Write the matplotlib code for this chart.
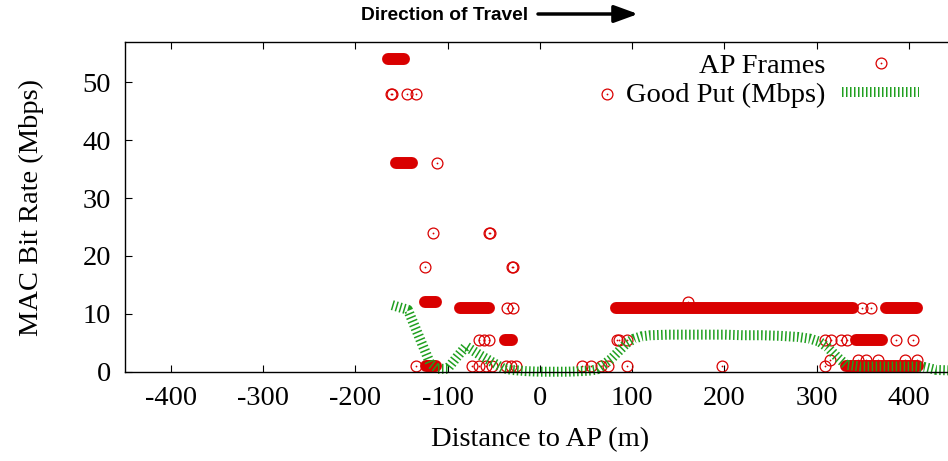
import matplotlib
matplotlib.use('Agg')
import matplotlib.pyplot as plt
from matplotlib.lines import Line2D

## Style
RED = '#d90000'
GREEN = '#1f9f1f'
plt.rcParams['font.family'] = ['Liberation Serif', 'DejaVu Serif']
plt.rcParams['axes.unicode_minus'] = False

################################################################################
## Data

## Isolated AP frames, distance to AP (m) for each MAC bit rate (Mbps)
frames_48 = [-161, -160, -144, -134, 73]
frames_36 = [-111]
frames_24 = [-116, -55, -53.5]
frames_18 = [-124, -30, -28.5]
frames_12 = [161]
frames_11 = [-35.5, -29, 349, 359.5]
frames_5_5 = [-65.5, -60, -55.5, 84, 85.5, 94.5, 309, 316, 327, 332.5, 386.5, 405]
frames_2 = [314.5, 345, 354, 367, 396, 409]
frames_1 = [-134, -73, -65.5, -58.5, -51.5, -37, -31.5, -26,
            46, 56, 66, 74, 94.5, 197, 309]

## Continuous stretches of AP frames at one rate
run_rate = [54, 36, 12, 11, 11, 11, 5.5, 5.5, 1, 1]
run_first = [-164, -156, -124.5, -87, 82.5, 375.5, -38, 343, -123.5, 332]
run_last = [-147, -139, -113, -55.5, 340, 408.5, -30.5, 370.5, -113, 410]

## Good put along the drive
goodput_dist = [-160, -143, -119, -111, -100, -90, -80, -72, -65, -52, -40, -30,
                -15, 0, 15, 30, 45, 55, 62, 70, 78, 86, 94, 102, 110, 120, 140,
                160, 180, 200, 220, 240, 260, 280, 293, 303, 312, 322, 332, 347,
                365, 385, 405, 417, 430, 450]
goodput_mbps = [11.5, 10.7, 1.5, 0.5, 0.5, 2.5, 4.4, 3.6, 2.9, 1.7, 0.6, 0.3,
                0.1, 0.0, 0.0, 0.0, 0.1, 0.2, 0.4, 1.3, 2.3, 3.6, 4.9, 5.7, 6.1, 6.3, 6.4,
                6.4, 6.4, 6.4, 6.3, 6.3, 6.2, 6.0, 5.7, 5.2, 4.2, 2.6, 1.2, 0.9,
                0.9, 0.9, 0.9, 0.8, 0.3, 0.2]

x_ticks = [-400, -300, -200, -100, 0, 100, 200, 300, 400]
y_ticks = [0, 10, 20, 30, 40, 50]

################################################################################
## Figure

fig = plt.figure(figsize=(9.48, 4.61), dpi=100)
ax = fig.add_axes([0.1315, 0.1937, 0.8758, 0.7158])

ring = dict(ls='none', marker='o', ms=7.8, mfc='none', mec=RED, mew=0.9)
dot = dict(ls='none', marker='o', ms=1.3, mfc=RED, mec='none')

frame_sets = [(48, frames_48), (36, frames_36), (24, frames_24), (18, frames_18),
              (12, frames_12), (11, frames_11), (5.5, frames_5_5), (2, frames_2),
              (1, frames_1)]
for rate, dists in frame_sets:
  ax.plot(dists, [rate] * len(dists), **ring)
  ax.plot(dists, [rate] * len(dists), **dot)

## Dense runs of overlapping circles merge into solid bands
for rate, x0, x1 in zip(run_rate, run_first, run_last):
  ax.plot([x0, x1], [rate, rate], color=RED, lw=8.6, solid_capstyle='round')

gp_style = dict(color=GREEN, lw=7.2, ls=(0, (0.15, 0.25)), dash_capstyle='butt')
ax.plot(goodput_dist, goodput_mbps, clip_on=False, **gp_style)

ax.set_xlim(-450, 450)
ax.set_ylim(0, 57)
ax.set_xticks(x_ticks)
ax.set_yticks(y_ticks)
ax.tick_params(direction='in', length=4.8, width=0.8, top=True, right=True,
               labelsize=20.5, pad=10)
for sp in ax.spines.values():
  sp.set_linewidth(1.0)

fig.text(540 / 948, 1 - 440 / 461, 'Distance to AP (m)', fontsize=20.5,
         ha='center', va='center')
fig.text(31 / 948, 1 - 207 / 461, 'MAC Bit Rate (Mbps)', fontsize=20.5,
         rotation=90, ha='center', va='center')

## Legend: label first, sample on the right
h_ap = (Line2D([], [], **ring), Line2D([], [], **dot))
h_gp = Line2D([], [], **gp_style)
ax.legend([h_ap, h_gp], ['AP Frames', 'Good Put (Mbps)'], loc='upper right',
          bbox_to_anchor=(0.957, 0.966), markerfirst=False, frameon=False,
          handlelength=2.7, handletextpad=0.6, labelspacing=0.12,
          borderpad=0, borderaxespad=0, fontsize=20.5, numpoints=1)

## Travel direction note above the plot
fig.text(361 / 948, 1 - 15 / 461, 'Direction of Travel', family='Liberation Sans',
         weight='bold', fontsize=13.8, ha='left', va='center')
ax.annotate('', xy=(638 / 948, 1 - 14 / 461), xytext=(538 / 948, 1 - 14 / 461),
            xycoords='figure fraction', textcoords='figure fraction',
            arrowprops=dict(arrowstyle='-|>,head_length=0.96,head_width=0.35',
                            lw=2.5, color='black', shrinkA=0, shrinkB=0,
                            mutation_scale=15))

fig.savefig('out.png', dpi=100)
